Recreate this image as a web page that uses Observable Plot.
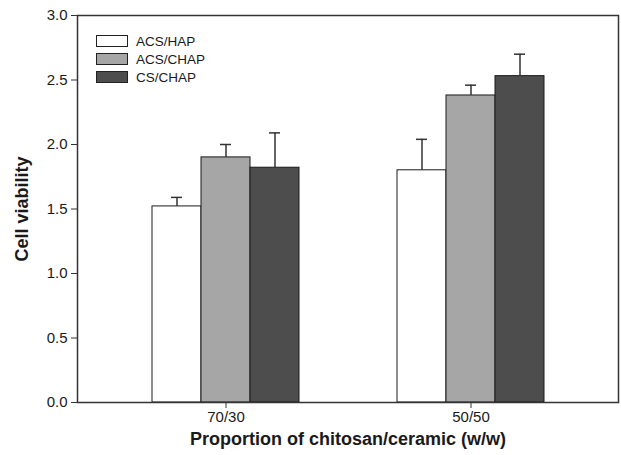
<!DOCTYPE html>
<html>
<head>
<meta charset="utf-8">
<script src="https://cdn.jsdelivr.net/npm/d3@7"></script>
<script src="https://cdn.jsdelivr.net/npm/@observablehq/plot@0.6"></script>
<style>
  html, body { margin: 0; padding: 0; background: #fff; }
  #wrap { position: relative; width: 621px; height: 455px; }
  #wrap svg { font-family: "Liberation Sans", Arial, sans-serif; }
  g[aria-label="y-axis label"], g[aria-label="x-axis label"] { font-weight: bold; font-size: 18px; }
  #legend { position: absolute; left: 96px; top: 32px; font-family: "Liberation Sans", Arial, sans-serif; font-size: 13.5px; color: #1a1a1a; }
  #legend .row { display: flex; align-items: center; height: 18px; }
  #legend .sw { width: 30px; height: 10px; border: 1px solid #222; margin-right: 8px; }
</style>
</head>
<body>
<div id="wrap"><div id="legend"></div></div>
<script>
const groups = ["70/30", "50/50"];
const series = ["ACS/HAP", "ACS/CHAP", "CS/CHAP"];
const colors = ["#ffffff", "#a6a6a6", "#4d4d4d"];
const acsHapMean = [1.52, 1.80];
const acsHapErr = [0.07, 0.24];
const acsChapMean = [1.90, 2.38];
const acsChapErr = [0.10, 0.08];
const csChapMean = [1.82, 2.53];
const csChapErr = [0.27, 0.17];
const yTicks = [0, 0.5, 1.0, 1.5, 2.0, 2.5, 3.0];

const means = [acsHapMean, acsChapMean, csChapMean];
const errs = [acsHapErr, acsChapErr, csChapErr];
const key = (g, s) => g + "|" + s;

const data = [];
groups.forEach((g, gi) => series.forEach((s, si) => {
  data.push({group: g, series: s, key: key(g, s), mean: means[si][gi], err: errs[si][gi]});
}));

// band domain: bars of each group, with two empty slots between groups
const domain = [];
groups.forEach((g, gi) => {
  if (gi > 0) { domain.push("gap" + gi + "a", "gap" + gi + "b"); }
  series.forEach(s => domain.push(key(g, s)));
});

const chart = Plot.plot({
  width: 621,
  height: 455,
  marginLeft: 77,
  marginRight: 3,
  marginTop: 15,
  marginBottom: 53,
  style: {fontFamily: "Liberation Sans, Arial, sans-serif", fontSize: "15px", color: "#1a1a1a"},
  x: {domain, paddingInner: 0, paddingOuter: 1.5},
  y: {domain: [0, 3]},
  color: {domain: series, range: colors},
  marks: [
    Plot.barY(data, {x: "key", y: "mean", fill: "series", stroke: "#1a1a1a", strokeWidth: 1}),
    Plot.ruleX(data, {x: "key", y1: "mean", y2: d => d.mean + d.err, stroke: "#333", strokeWidth: 1.5}),
    Plot.tickY(data, {x: "key", y: d => d.mean + d.err, stroke: "#333", strokeWidth: 1.5, insetLeft: 19, insetRight: 19}),
    Plot.frame({stroke: "#333", strokeWidth: 1.5}),
    Plot.axisY({ticks: yTicks, tickFormat: d3.format(".1f"), tickSize: 6, tickPadding: 4, fontSize: 15,
      label: "Cell viability", labelAnchor: "center", labelArrow: "none", labelOffset: 62, stroke: "#333"}),
    Plot.axisX({ticks: groups.map(g => key(g, series[1])), tickFormat: d => d.split("|")[0], fontSize: 15,
      tickSize: 6, tickPadding: 3, label: "Proportion of chitosan/ceramic (w/w)", labelAnchor: "center",
      labelArrow: "none", labelOffset: 42, stroke: "#333"})
  ]
});
document.getElementById("wrap").prepend(chart);

const legend = document.getElementById("legend");
series.forEach((s, i) => {
  const row = document.createElement("div");
  row.className = "row";
  const sw = document.createElement("div");
  sw.className = "sw";
  sw.style.background = colors[i];
  const t = document.createElement("span");
  t.textContent = s;
  row.append(sw, t);
  legend.append(row);
});
</script>
</body>
</html>
